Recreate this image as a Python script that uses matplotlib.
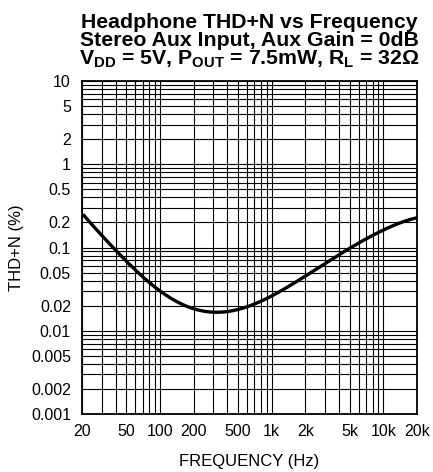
import numpy as np
import matplotlib.pyplot as plt
from matplotlib.ticker import FixedLocator, FixedFormatter, LogLocator, NullFormatter

plt.rcParams['font.family'] = ['Liberation Sans', 'DejaVu Sans']

# curve
freq = [20.4, 28.4, 40.1, 56.6, 80, 113, 171, 225, 318, 481, 632, 778, 1177,
        1973, 3090, 4676, 6590, 9310, 14070, 20000]
thdn = [0.250, 0.152, 0.0940, 0.0560, 0.0385, 0.0274, 0.0196, 0.0174, 0.0168,
        0.0179, 0.0196, 0.0222, 0.0298, 0.0451, 0.0654, 0.0915, 0.122, 0.157,
        0.195, 0.228]

xticks = [20, 50, 100, 200, 500, 1000, 2000, 5000, 10000, 20000]
xlabels = ['20', '50', '100', '200', '500', '1k', '2k', '5k', '10k', '20k']
yticks = [0.001, 0.002, 0.005, 0.01, 0.02, 0.05, 0.1, 0.2, 0.5, 1, 2, 5, 10]
ylabels = ['0.001', '0.002', '0.005', '0.01', '0.02', '0.05', '0.1', '0.2', '0.5', '1', '2', '5', '10']

fig = plt.figure(figsize=(4.33, 4.72), dpi=100)
ax = fig.add_axes([82/433, 1-414/472, (417-82)/433, (414-81)/472])

# smooth line through the read points (least squares in log-log space)
lx = np.log10(freq)
ly = np.log10(thdn)
coef = np.polyfit(lx, ly, 8)
xs = np.linspace(lx[0], lx[-1], 400)
ys = np.polyval(coef, xs)
ax.plot(10**xs, 10**ys, color='black', lw=2.4, zorder=3, solid_capstyle='butt')

ax.set_xscale('log')
ax.set_yscale('log')
ax.set_xlim(20, 20000)
ax.set_ylim(0.001, 10)

ax.xaxis.set_major_locator(FixedLocator(xticks))
ax.xaxis.set_major_formatter(FixedFormatter(xlabels))
ax.xaxis.set_minor_locator(LogLocator(base=10, subs=np.arange(1, 10)))
ax.xaxis.set_minor_formatter(NullFormatter())
ax.yaxis.set_major_locator(FixedLocator(yticks))
ax.yaxis.set_major_formatter(FixedFormatter(ylabels))
ax.yaxis.set_minor_locator(LogLocator(base=10, subs=np.arange(1, 10)))
ax.yaxis.set_minor_formatter(NullFormatter())

ax.grid(True, which='both', color='black', lw=0.8)
ax.tick_params(which='both', length=0, labelsize=11.5, colors='black')
ax.tick_params(axis='y', pad=8)
ax.tick_params(axis='x', pad=7)
for s in ax.spines.values():
    s.set_linewidth(1.3)

ax.set_xlabel('FREQUENCY (Hz)', fontsize=12, labelpad=11)
ax.set_ylabel('THD+N (%)', fontsize=12, labelpad=5)
ax.set_title('Headphone THD+N vs Frequency\nStereo Aux Input, Aux Gain = 0dB\n'
             r'V$_{\mathregular{DD}}$ = 5V, P$_{\mathregular{OUT}}$ = 7.5mW, R$_{\mathregular{L}}$ = 32Ω',
             fontsize=15.3, fontweight='bold', linespacing=0.9, pad=12)

fig.savefig('out.png', dpi=100)
